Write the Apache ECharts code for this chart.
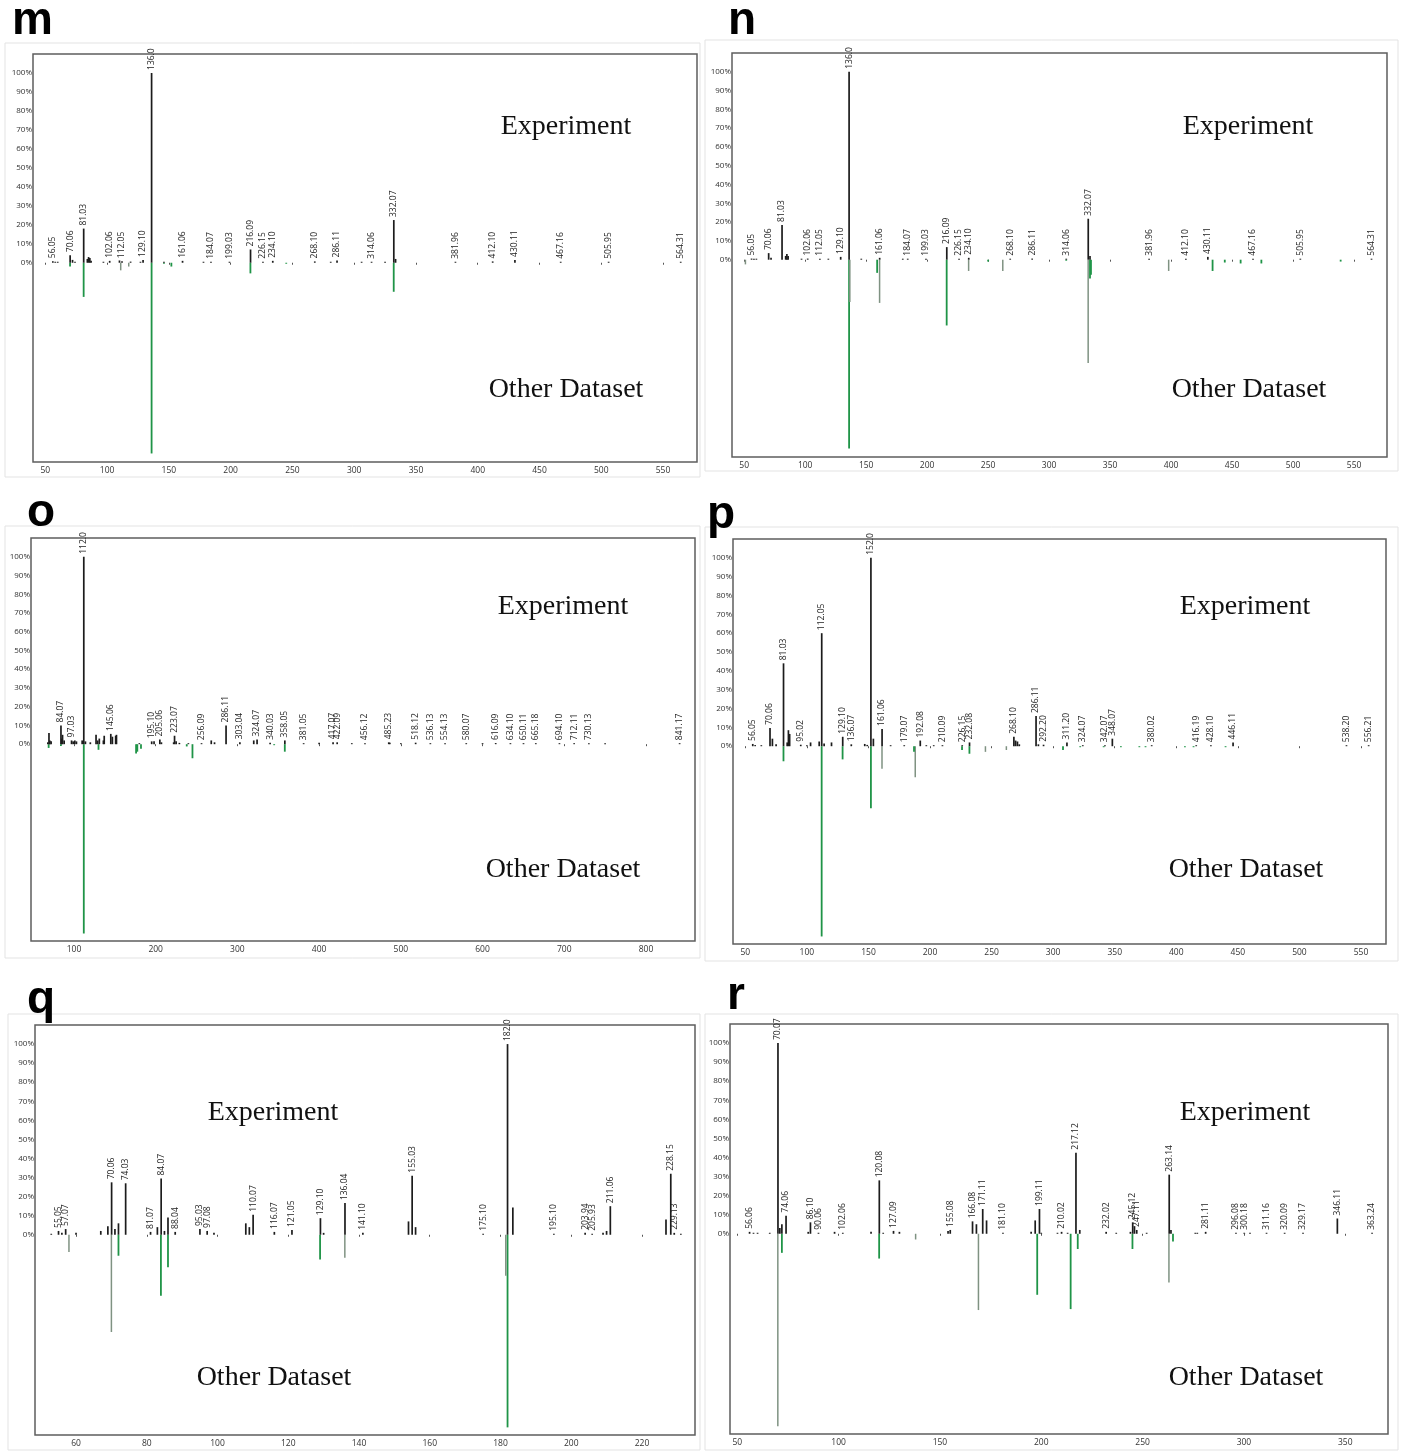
<!DOCTYPE html>
<html>
<head>
<meta charset="utf-8">
<script src="https://cdn.jsdelivr.net/npm/echarts@6/dist/echarts.min.js"></script>
<style>
html, body { margin: 0; padding: 0; background: #fff; }
#chart { width: 1405px; height: 1454px; }
</style>
</head>
<body>
<div id="chart"></div>
<script>
// peaks: [m/z, relative intensity %, label]; reference peaks: [m/z, intensity %, 'g' green | 'k' gray]
var yTicks = [0, 10, 20, 30, 40, 50, 60, 70, 80, 90, 100];

var mTicks = [50, 100, 150, 200, 250, 300, 350, 400, 450, 500, 550];
var mExp = [[56.05, 0.8, '56.05'], [58, 0.5], [60, 0.4], [70.06, 4, '70.06'], [72, 1.5], [74, 0.5], [81.03, 18, '81.03'],
  [84, 2], [85, 3], [86, 2.5], [87, 1], [97, 0.5], [102.06, 1, '102.06'], [110, 1.2], [112.05, 0.8, '112.05'], [119, 0.6],
  [127, 0.5], [129.10, 1.5, '129.10'], [136.0, 100, '136.0'], [146, 0.5], [161.06, 1, '161.06'], [178, 0.3],
  [184.07, 0.4, '184.07'], [199.03, 0.4, '199.03'], [216.09, 7, '216.09'], [226.15, 0.4, '226.15'], [234.10, 1, '234.10'],
  [268.10, 0.7, '268.10'], [281, 0.3], [286.11, 1.2, '286.11'], [306, 0.3], [314.06, 0.4, '314.06'], [325, 0.3],
  [332.07, 22.5, '332.07'], [333.5, 2], [381.96, 0.3, '381.96'], [412.10, 0.7, '412.10'], [430.11, 1.5, '430.11'],
  [467.16, 0.3, '467.16'], [505.95, 0.3, '505.95'], [564.31, 0.3, '564.31']];
var mRef = [[70, 2, 'g'], [81, 18, 'g'], [111, 4, 'k'], [117.5, 2, 'k'], [136, 100.5, 'g'], [146, 0.5, 'g'], [152, 2, 'g'],
  [216, 5.6, 'g'], [245, 0.5, 'g'], [332, 15.3, 'g']];

var nTicks = [50, 100, 150, 200, 250, 300, 350, 400, 450, 500, 550];
var nExp = [[56.05, 0.6, '56.05'], [58, 0.4], [60, 0.4], [70.06, 3.5, '70.06'], [72, 1], [81.03, 18.5, '81.03'], [84, 2],
  [85, 3], [86, 2], [97, 0.5], [102.06, 0.6, '102.06'], [112.05, 0.5, '112.05'], [119, 0.5], [129.10, 1.5, '129.10'],
  [136.0, 100, '136.0'], [146, 0.3], [161.06, 1, '161.06'], [180, 0.3], [184.07, 0.3, '184.07'], [199.03, 0.5, '199.03'],
  [216.09, 6.7, '216.09'], [226.15, 0.3, '226.15'], [234.10, 1, '234.10'], [268.10, 0.5, '268.10'], [286.11, 0.6, '286.11'],
  [314.06, 0.5, '314.06'], [332.07, 21.8, '332.07'], [333.5, 2], [381.96, 0.3, '381.96'], [412.10, 0.5, '412.10'],
  [430.11, 1.5, '430.11'], [467.16, 0.3, '467.16'], [505.95, 0.3, '505.95'], [564.31, 0.3, '564.31']];
var nRef = [[51, 2.5, 'k'], [136, 100.5, 'g'], [136.6, 22.5, 'k'], [159, 7, 'g'], [161, 23, 'k'], [216, 35, 'g'],
  [234, 6, 'k'], [250, 1, 'g'], [262, 6, 'k'], [314, 0.5, 'g'], [332, 55, 'k'], [333.5, 10, 'g'], [334.3, 8, 'g'],
  [398, 6, 'k'], [434, 6, 'g'], [444, 1.5, 'g'], [457, 2, 'g'], [474, 2, 'g'], [539, 1, 'g']];

var oTicks = [100, 200, 300, 400, 500, 600, 700, 800];
var oExp = [[68, 1], [69.4, 6], [70.5, 2], [72, 1.5], [84.07, 10, '84.07'], [85, 3], [86, 5], [88, 2], [97.03, 2, '97.03'],
  [99, 1.5], [101, 2], [103, 1.5], [110, 2], [112.0, 100, '112.0'], [114, 1.5], [120, 1], [127, 5], [129, 2], [131, 3],
  [136, 2], [137, 4.5], [145.06, 5.5, '145.06'], [147, 4], [151, 4.5], [152, 5], [180, 0.5], [195.10, 1.5, '195.10'],
  [198, 1.5], [205.06, 2.5, '205.06'], [207, 1], [222, 1], [223.07, 4.5, '223.07'], [225, 1.5], [229, 0.7], [240, 0.5],
  [256.09, 0.5, '256.09'], [268, 2], [272, 1], [286.11, 10, '286.11'], [303.04, 1, '303.04'], [320, 2], [324.07, 2.5, '324.07'],
  [340.03, 0.7, '340.03'], [358.05, 2, '358.05'], [381.05, 0.3, '381.05'], [400, 0.7], [417.07, 1, '417.07'],
  [422.09, 1, '422.09'], [440, 0.3], [456.12, 0.4, '456.12'], [485.23, 1, '485.23'], [486.5, 0.8], [500, 0.3],
  [518.12, 0.8, '518.12'], [536.13, 0.4, '536.13'], [554.13, 0.4, '554.13'], [580.07, 0.3, '580.07'], [600, 0.4],
  [616.09, 0.6, '616.09'], [634.10, 0.5, '634.10'], [650.11, 0.3, '650.11'], [665.18, 0.3, '665.18'], [694.10, 0.4, '694.10'],
  [712.11, 0.5, '712.11'], [730.13, 0.5, '730.13'], [750, 0.5], [841.17, 0.2, '841.17']];
var oRef = [[69, 2, 'g'], [84, 1, 'g'], [112, 101, 'g'], [130, 3, 'g'], [176, 5, 'g'], [177.5, 4, 'g'], [182, 2.5, 'g'],
  [238, 1.2, 'g'], [245, 7.5, 'g'], [345, 0.5, 'g'], [358, 4, 'g']];

var pTicks = [50, 100, 150, 200, 250, 300, 350, 400, 450, 500, 550];
var pExp = [[56.05, 1.2, '56.05'], [58, 0.6], [63, 0.4], [70.06, 9.7, '70.06'], [72, 4], [75, 1], [81.03, 44, '81.03'],
  [84, 2], [85, 8.5], [86, 6.5], [95.02, 0.8, '95.02'], [100, 0.5], [103, 2], [110, 2.5], [112.05, 60, '112.05'],
  [114, 1.5], [120, 2], [129.10, 5, '129.10'], [136.07, 1, '136.07'], [147, 1.2], [149, 0.7], [152.0, 100, '152.0'],
  [154, 4], [161.06, 9.2, '161.06'], [168, 0.5], [179.07, 0.5, '179.07'], [192.08, 3, '192.08'], [197, 0.3], [203, 0.3],
  [210.09, 0.3, '210.09'], [226.15, 0.3, '226.15'], [232.08, 2, '232.08'], [268.10, 5, '268.10'], [269.5, 3], [271, 2.5],
  [272.5, 1], [286.11, 16, '286.11'], [288, 1], [292.20, 0.8, '292.20'], [311.20, 2, '311.20'], [324.07, 0.5, '324.07'],
  [342.07, 0.5, '342.07'], [348.07, 4, '348.07'], [380.02, 0.3, '380.02'], [416.19, 0.5, '416.19'], [428.10, 0.3, '428.10'],
  [446.11, 2, '446.11'], [538.20, 0.3, '538.20'], [556.21, 0.3, '556.21']];
var pRef = [[81, 8, 'g'], [112, 101, 'g'], [129, 7, 'g'], [152, 33, 'g'], [161, 12, 'k'], [187, 3, 'g'], [188, 16.5, 'k'],
  [226, 2, 'g'], [232, 4, 'g'], [245, 3, 'k'], [262, 2, 'k'], [308, 2, 'g'], [322, 0.5, 'g'], [341, 0.5, 'g'],
  [355, 0.5, 'g'], [370, 0.5, 'g'], [375, 0.5, 'g'], [407, 0.5, 'g'], [414, 0.5, 'g'], [440, 0.5, 'g']];

var qTicks = [60, 80, 100, 120, 140, 160, 180, 200, 220];
var qExp = [[53, 0.4], [55.05, 2, '55.05'], [56, 1], [57.07, 3, '57.07'], [60, 1], [67, 2], [69, 4.5], [70.06, 27.5, '70.06'],
  [71, 3], [72, 6], [74.03, 27, '74.03'], [81.07, 1.5, '81.07'], [83, 4], [84.07, 29.5, '84.07'], [85, 2], [86, 9],
  [88.04, 1.5, '88.04'], [95.03, 3, '95.03'], [97.08, 2, '97.08'], [99, 1], [108, 6], [109, 4], [110.07, 10.5, '110.07'],
  [116.07, 1.5, '116.07'], [121.05, 2.5, '121.05'], [129.10, 8.7, '129.10'], [130, 1], [136.04, 16.6, '136.04'],
  [141.10, 1, '141.10'], [154, 7], [155.03, 31, '155.03'], [156, 4], [175.10, 0.5, '175.10'], [182.0, 100, '182.0'],
  [183.5, 14.3], [195.10, 0.5, '195.10'], [203.94, 1, '203.94'], [205.93, 0.5, '205.93'], [209, 1], [210, 2],
  [211.06, 15, '211.06'], [226.8, 8], [228.15, 32, '228.15'], [229.13, 1, '229.13'], [231, 0.3]];
var qRef = [[58, 9, 'k'], [70, 51, 'k'], [72, 11, 'g'], [84, 32, 'g'], [86, 17, 'g'], [129, 13, 'g'], [136, 12, 'k'],
  [181.5, 21.5, 'k'], [182, 101, 'g']];

var rTicks = [50, 100, 150, 200, 250, 300, 350];
var rExp = [[56.06, 1, '56.06'], [58, 0.5], [60, 0.5], [66, 0.5], [70.07, 100, '70.07'], [71, 3], [72, 5], [74.06, 9.5, '74.06'],
  [85, 1], [86.10, 6, '86.10'], [90.06, 0.5, '90.06'], [98, 1], [102.06, 0.5, '102.06'], [116, 1], [120.08, 28, '120.08'],
  [122, 0.5], [127.09, 1.5, '127.09'], [130, 1], [154, 1.5], [155.08, 2, '155.08'], [166.08, 6.5, '166.08'], [168, 5],
  [171.11, 13, '171.11'], [173, 7], [181.10, 0.5, '181.10'], [195, 1], [197, 7], [199.11, 13, '199.11'], [200, 0.5],
  [208, 0.5], [210.02, 1, '210.02'], [213, 0.5], [217.12, 42.5, '217.12'], [219, 2], [232.02, 1, '232.02'], [237, 0.5],
  [244, 1], [245.12, 6, '245.12'], [246, 4], [247.11, 2, '247.11'], [252, 0.5], [263.14, 31, '263.14'], [264, 2],
  [276, 0.5], [277, 0.5], [281.11, 1, '281.11'], [296.08, 0.3, '296.08'], [300.18, 0.3, '300.18'], [303, 0.5],
  [311.16, 0.3, '311.16'], [320.09, 0.5, '320.09'], [329.17, 0.3, '329.17'], [346.11, 8, '346.11'], [363.24, 0.3, '363.24']];
var rRef = [[70, 101, 'k'], [72, 10, 'g'], [120, 13, 'g'], [138, 3, 'k'], [169, 40, 'k'], [198, 32, 'g'],
  [214.5, 39.5, 'g'], [218, 8, 'g'], [245, 8, 'g'], [263, 25.5, 'k'], [265, 4, 'g']];

// layout of the six sub-figures (pixels)
var panels = [
  { letter: 'm', exp: mExp, ref: mRef, ticks: mTicks, xMin: 40, xMax: 577.5, grid: [33, 54, 664, 408],
    lpos: [12, 21], t1: [566, 127], t2: [566, 390], box: [5, 43, 695, 434] },
  { letter: 'n', exp: nExp, ref: nRef, ticks: nTicks, xMin: 40, xMax: 577, grid: [732, 53, 655, 404],
    lpos: [728, 21], t1: [1248, 127], t2: [1249, 390], box: [705, 40, 693, 431] },
  { letter: 'o', exp: oExp, ref: oRef, ticks: oTicks, xMin: 47.4, xMax: 860, grid: [31, 538, 664, 403],
    lpos: [27, 513], t1: [563, 607], t2: [563, 870], box: [5, 526, 695, 432] },
  { letter: 'p', exp: pExp, ref: pRef, ticks: pTicks, xMin: 40, xMax: 570.3, grid: [733, 539, 653, 405],
    lpos: [707, 515], t1: [1245, 607], t2: [1246, 870], box: [705, 527, 693, 434] },
  { letter: 'q', exp: qExp, ref: qRef, ticks: qTicks, xMin: 48.4, xMax: 235, grid: [35, 1025, 660, 410],
    lpos: [27, 1000], t1: [273, 1113], t2: [274, 1378], box: [8, 1014, 692, 436] },
  { letter: 'r', exp: rExp, ref: rRef, ticks: rTicks, xMin: 46.4, xMax: 371.1, grid: [730, 1024, 658, 410],
    lpos: [727, 996], t1: [1245, 1113], t2: [1246, 1378], box: [705, 1014, 693, 436] }
];

var GREEN = '#1f9447', GRAY = '#7f9282', BLACK = '#1c1c1c';

function expSeries(i, data) {
  return {
    type: 'custom', xAxisIndex: i, yAxisIndex: i, silent: true, clip: false,
    data: data.map(function (d) { return [d[0], d[1]]; }),
    renderItem: function (params, api) {
      var d = data[params.dataIndex];
      var a = api.coord([d[0], 0]);
      var b = api.coord([d[0], d[1]]);
      var top = Math.min(b[1], a[1] - 1);
      var kids = [{ type: 'line', shape: { x1: a[0], y1: a[1], x2: b[0], y2: top },
        style: { stroke: BLACK, lineWidth: 1.7 } }];
      if (d[2]) {
        kids.push({ type: 'text', x: b[0], y: top - 3, rotation: Math.PI / 2,
          style: { text: d[2], fill: '#222', font: '8.5px "Open Sans", sans-serif', align: 'left', verticalAlign: 'middle' } });
      }
      return { type: 'group', children: kids };
    }
  };
}

function refSeries(i, data) {
  var sorted = data.slice().sort(function (a, b) { return b[1] - a[1]; });
  return {
    type: 'custom', xAxisIndex: i, yAxisIndex: i, silent: true, clip: false,
    data: sorted.map(function (d) { return [d[0], -d[1]]; }),
    renderItem: function (params, api) {
      var d = sorted[params.dataIndex];
      var a = api.coord([d[0], 0]);
      var b = api.coord([d[0], -d[1]]);
      return { type: 'line', shape: { x1: a[0], y1: a[1], x2: b[0], y2: Math.max(b[1], a[1] + 1) },
        style: { stroke: d[2] === 'g' ? GREEN : GRAY, lineWidth: d[2] === 'g' ? 1.8 : 1.5 } };
    }
  };
}

var grids = [], xAxes = [], yAxes = [], series = [], graphics = [];
panels.forEach(function (p, i) {
  grids.push({ left: p.grid[0], top: p.grid[1], width: p.grid[2], height: p.grid[3], show: true,
    borderColor: '#5e5e5e', borderWidth: 1.5, backgroundColor: 'transparent', containLabel: false, outerBoundsMode: 'none' });
  xAxes.push({ type: 'value', gridIndex: i, min: p.xMin, max: p.xMax,
    axisLine: { show: false }, splitLine: { show: false },
    axisTick: { show: true, length: 2, customValues: p.ticks, lineStyle: { color: '#555' } },
    axisLabel: { customValues: p.ticks, fontSize: 8.5, color: '#333', margin: 4, fontFamily: 'Open Sans' } });
  yAxes.push({ type: 'value', gridIndex: i, min: -105, max: 110,
    axisLine: { show: false }, splitLine: { show: false }, axisTick: { show: false },
    axisLabel: { customValues: yTicks, formatter: function (v) { return v + '%'; },
      fontSize: 8, color: '#333', margin: 1, fontFamily: 'Open Sans' } });
  series.push(refSeries(i, p.ref));
  series.push(expSeries(i, p.exp));
  graphics.push({ type: 'rect', shape: { x: p.box[0], y: p.box[1], width: p.box[2], height: p.box[3] },
    style: { fill: 'none', stroke: '#e3e3e3', lineWidth: 1 }, z: -1 });
  graphics.push({ type: 'text', x: p.lpos[0], y: p.lpos[1],
    style: { text: p.letter, font: 'bold 46px "Liberation Sans", Arial, sans-serif', fill: '#000', verticalAlign: 'middle' } });
  graphics.push({ type: 'text', x: p.t1[0], y: p.t1[1],
    style: { text: 'Experiment', font: '28px "Liberation Serif", "Times New Roman", serif', fill: '#111', align: 'center', verticalAlign: 'middle' } });
  graphics.push({ type: 'text', x: p.t2[0], y: p.t2[1],
    style: { text: 'Other Dataset', font: '28px "Liberation Serif", "Times New Roman", serif', fill: '#111', align: 'center', verticalAlign: 'middle' } });
});

var chart = echarts.init(document.getElementById('chart'), null, { renderer: 'canvas' });
chart.setOption({
  animation: false,
  backgroundColor: '#fff',
  grid: grids,
  xAxis: xAxes,
  yAxis: yAxes,
  series: series,
  graphic: graphics
});
window.onresize = function () { chart.resize(); };
</script>
</body>
</html>
